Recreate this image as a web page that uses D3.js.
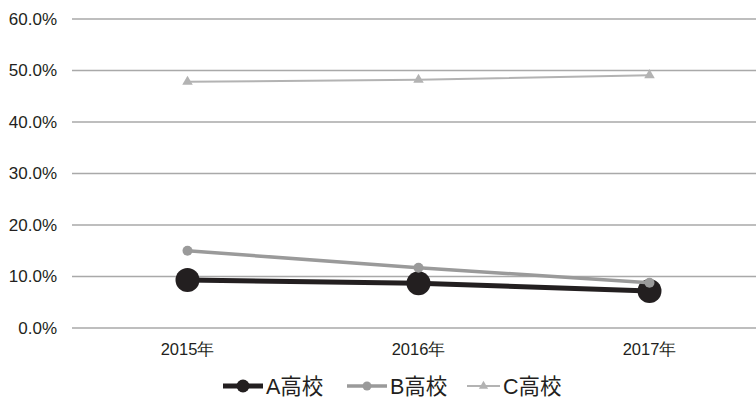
<!DOCTYPE html>
<html>
<head>
<meta charset="utf-8">
<script src="https://cdn.jsdelivr.net/npm/d3@7"></script>
<style>
  html, body { margin: 0; padding: 0; background: #fff; }
  svg { display: block; font-family: "Liberation Sans", Arial, "Noto Sans CJK JP", sans-serif; }
</style>
</head>
<body>
<svg id="chart" width="756" height="398"></svg>
<script>
// Share of students per school by year
const years = ["2015年", "2016年", "2017年"];
const schoolA = [9.3, 8.7, 7.2];
const schoolB = [15.0, 11.7, 8.8];
const schoolC = [47.8, 48.2, 49.1];
const yTicks = [0, 10, 20, 30, 40, 50, 60];
const seriesNames = ["A高校", "B高校", "C高校"];

const series = [
  { name: seriesNames[0], values: schoolA, color: "#231f20", width: 5, marker: "circle", size: 12 },
  { name: seriesNames[1], values: schoolB, color: "#9a9a9a", width: 3.5, marker: "circle", size: 5 },
  { name: seriesNames[2], values: schoolC, color: "#b3b3b3", width: 2, marker: "triangle", size: 4 }
];

const svg = d3.select("#chart");
const plotLeft = 72, plotRight = 765, plotTop = 19, plotBottom = 328;

const x = d3.scaleBand().domain(years).range([plotLeft, plotRight]);
const y = d3.scaleLinear().domain([0, 60]).range([plotBottom, plotTop]);

// Horizontal gridlines
svg.append("g").selectAll("line").data(yTicks).join("line")
  .attr("x1", plotLeft).attr("x2", 756)
  .attr("y1", d => y(d)).attr("y2", d => y(d))
  .attr("stroke", "#a9a9a9").attr("stroke-width", 1.3);

// Y axis labels
const yAxis = d3.axisLeft(y).tickValues(yTicks).tickSize(0).tickPadding(15)
  .tickFormat(d => d.toFixed(1) + "%");
const gy = svg.append("g").attr("transform", `translate(${plotLeft},0)`).call(yAxis);
gy.select(".domain").remove();
gy.selectAll("text").attr("font-size", 17).attr("fill", "#231f20")
  .attr("font-family", "Liberation Sans, Arial, sans-serif");

// X axis labels
const xAxis = d3.axisBottom(x).tickSize(0).tickPadding(15);
const gx = svg.append("g").attr("transform", `translate(0,${plotBottom})`).call(xAxis);
gx.select(".domain").remove();
gx.selectAll("text").attr("font-size", 16.5).attr("fill", "#231f20");

const cx = d => x(d) + x.bandwidth() / 2;
const line = d3.line().x(d => cx(d.year)).y(d => y(d.v));
const tri = d3.symbol().type(d3.symbolTriangle);

function drawMarker(g, s, px, py, r) {
  if (s.marker === "circle") {
    g.append("circle").attr("cx", px).attr("cy", py).attr("r", r).attr("fill", s.color);
  } else {
    g.append("path").attr("d", tri.size(r * r * 3)())
      .attr("transform", `translate(${px},${py})`).attr("fill", s.color);
  }
}

series.forEach(s => {
  const pts = s.values.map((v, i) => ({ year: years[i], v }));
  const g = svg.append("g");
  g.append("path").datum(pts).attr("d", line)
    .attr("fill", "none").attr("stroke", s.color).attr("stroke-width", s.width);
  pts.forEach(p => drawMarker(g, s, cx(p.year), y(p.v), s.size));
});

// Legend
const legendY = 386;
const legendItems = [
  { x: 223, r: 6.5 },
  { x: 347, r: 4.5 },
  { x: 467, r: 3.5 }
];
series.forEach((s, i) => {
  const lx = legendItems[i].x;
  const len = i === 2 ? 33 : 40;
  const g = svg.append("g");
  g.append("line").attr("x1", lx).attr("x2", lx + len)
    .attr("y1", legendY).attr("y2", legendY)
    .attr("stroke", s.color).attr("stroke-width", s.width);
  drawMarker(g, s, lx + len / 2, legendY, legendItems[i].r);
  g.append("text").attr("x", lx + len + 3).attr("y", legendY)
    .attr("dy", "0.36em").attr("font-size", 21.5).attr("fill", "#231f20")
    .text(s.name);
});
</script>
</body>
</html>
